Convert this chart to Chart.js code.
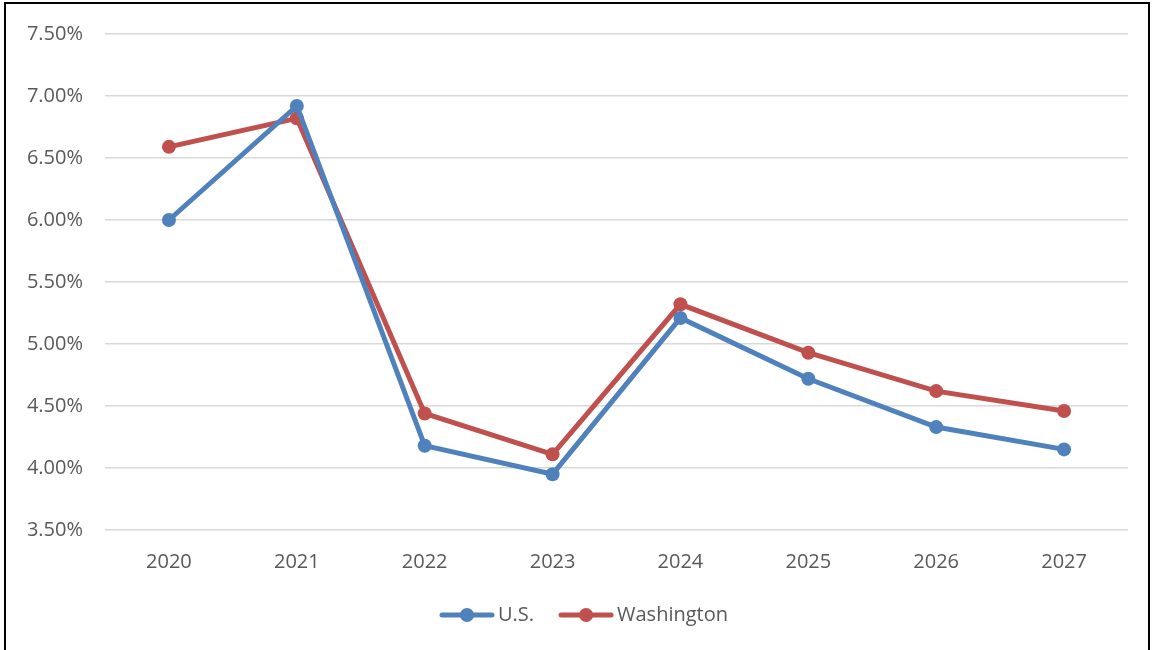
<!DOCTYPE html>
<html><head><meta charset="utf-8">
<script src="https://cdn.jsdelivr.net/npm/chart.js@4"></script>
<style>
html,body{margin:0;padding:0;background:#fff;}
#wrap{position:absolute;left:0;top:0;width:1153px;height:650px;}
#frame{position:absolute;left:4px;top:2px;width:1142px;height:660px;border:2px solid #000;border-bottom:none;box-sizing:content-box;pointer-events:none;}
canvas{position:absolute;left:0;top:0;}
</style></head>
<body>
<div id="wrap"><canvas id="c" width="1153" height="650"></canvas><div id="frame"></div></div>
<script>
const years = ['2020','2021','2022','2023','2024','2025','2026','2027'];
const usRates = [6.00, 6.92, 4.18, 3.95, 5.21, 4.72, 4.33, 4.15];
const waRates = [6.59, 6.82, 4.44, 4.11, 5.32, 4.93, 4.62, 4.46];
const seriesNames = ['U.S.', 'Washington'];
const colors = ['#4f81bd', '#c0504d'];

function legendIcon(color){
  const c = document.createElement('canvas');
  c.width = 56; c.height = 16;
  const g = c.getContext('2d');
  g.strokeStyle = color; g.lineWidth = 5; g.lineCap = 'round';
  g.beginPath(); g.moveTo(3,8); g.lineTo(53,8); g.stroke();
  g.fillStyle = color; g.beginPath(); g.arc(28,8,7,0,Math.PI*2); g.fill();
  return c;
}
const icons = colors.map(legendIcon);
const FONT = 'Open Sans';

const legendShift = {
  id: 'legendShift',
  afterLayout(chart) {
    const l = chart.legend;
    if (l) { l.left += 23; l.right += 23; }
  }
};

new Chart(document.getElementById('c'), {
  type: 'line',
  data: {
    labels: years,
    datasets: [
      {label: seriesNames[0], data: usRates, borderColor: colors[0], backgroundColor: colors[0], borderWidth: 5, pointRadius: 7, pointBorderWidth: 0, pointHoverRadius: 7, pointHoverBorderWidth: 0, tension: 0},
      {label: seriesNames[1], data: waRates, borderColor: colors[1], backgroundColor: colors[1], borderWidth: 5, pointRadius: 7, pointBorderWidth: 0, pointHoverRadius: 7, pointHoverBorderWidth: 0, tension: 0}
    ]
  },
  plugins: [legendShift],
  options: {
    responsive: false,
    animation: false,
    layout: {padding: {left: 0, right: 25, top: 33, bottom: 15}},
    plugins: {
      tooltip: {enabled: false},
      legend: {
        position: 'bottom',
        labels: {
          usePointStyle: true,
          pointStyleWidth: 42,
          color: '#595959',
          font: {family: FONT, size: 20},
          padding: 31,
          generateLabels: (chart) => chart.data.datasets.map((d, i) => ({
            text: d.label, pointStyle: icons[i], fillStyle: colors[i], strokeStyle: colors[i], lineWidth: 0, datasetIndex: i, hidden: false, fontColor: '#595959'
          }))
        }
      }
    },
    scales: {
      x: {
        offset: true,
        grid: {display: false},
        border: {display: false},
        ticks: {color: '#595959', font: {family: FONT, size: 20}, padding: 12},
        afterFit: (s) => { s.height = 44; }
      },
      y: {
        min: 3.5, max: 7.5,
        grid: {color: '#d9d9d9', lineWidth: 1.5, drawTicks: false},
        border: {display: false},
        ticks: {stepSize: 0.5, color: '#595959', font: {family: FONT, size: 20}, padding: 22,
          callback: (v) => Number(v).toFixed(2) + '%'},
        afterFit: (s) => { s.width = 105; }
      }
    }
  }
});
</script>
</body></html>
